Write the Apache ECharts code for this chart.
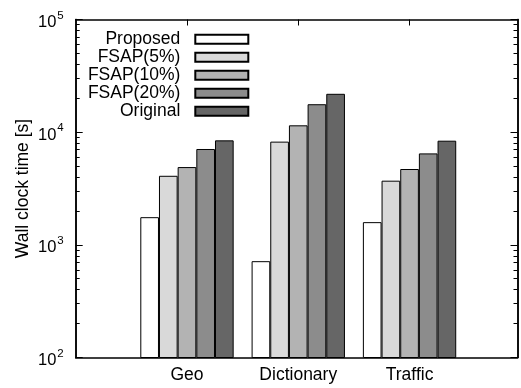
<!DOCTYPE html>
<html><head><meta charset="utf-8">
<script src="https://cdn.jsdelivr.net/npm/echarts@6/dist/echarts.min.js"></script>
<style>html,body{margin:0;padding:0;background:#fff}#c{width:521px;height:388px}</style>
</head><body><div id="c"></div>
<script>
const categories = ['Geo', 'Dictionary', 'Traffic'];
const seriesNames = ['Proposed', 'FSAP(5%)', 'FSAP(10%)', 'FSAP(20%)', 'Original'];
const proposed = [1760, 716, 1590];
const fsap5 = [4100, 8240, 3710];
const fsap10 = [4900, 11500, 4710];
const fsap20 = [7090, 17700, 6480];
const original = [8460, 21900, 8400];
const yMajorTicks = [100, 1000, 10000, 100000];
const yMinorTicks = [200,300,400,500,600,700,800,900,2000,3000,4000,5000,6000,7000,8000,9000,20000,30000,40000,50000,60000,70000,80000,90000];
const colors = ['#ffffff', '#d9d9d9', '#b3b3b3', '#8c8c8c', '#666666'];
const values = [proposed, fsap5, fsap10, fsap20, original];
const catPos = categories.map((c, i) => i + 1);

const FONT = 'Liberation Sans, Arial, sans-serif';
const chart = echarts.init(document.getElementById('c'), null, {renderer: 'canvas'});
const lineStyle = {color: '#000', width: 1.5};
const yBase = {type: 'log', logBase: 10, min: 100, max: 100000, splitLine: {show: false}, axisLine: {show: true, lineStyle}};
chart.setOption({
  animation: false,
  backgroundColor: '#fff',
  textStyle: {fontFamily: FONT},
  grid: {left: 75.7, right: 3.5, top: 19.5, bottom: 30.5, containLabel: false},
  legend: {
    data: seriesNames, orient: 'vertical', align: 'right', right: 271.7, top: 30.2,
    itemWidth: 53, itemHeight: 9, itemGap: 0, padding: 0, icon: 'rect',
    textStyle: {fontSize: 17.5, lineHeight: 17.6, color: '#000', fontFamily: FONT, padding: [0, 10, 0, 0]}
  },
  xAxis: [
    {type: 'value', min: 0, max: 3.97, interval: 1, position: 'bottom',
     splitLine: {show: false}, axisLine: {show: true, lineStyle}, axisTick: {show: false},
     axisLabel: {customValues: catPos, formatter: v => categories[Math.round(v) - 1] || '', fontSize: 17.5, color: '#000', margin: 9, fontFamily: FONT}},
    {type: 'value', min: 0, max: 3.97, interval: 1, position: 'top',
     splitLine: {show: false}, axisLine: {show: true, lineStyle}, axisLabel: {show: false},
     axisTick: {show: true, inside: true, length: 6, customValues: catPos, lineStyle: {color: '#000', width: 1}}}
  ],
  yAxis: [
    Object.assign({}, yBase, {position: 'left', name: 'Wall clock time [s]', nameLocation: 'middle', nameGap: 44, nameMoveOverlap: false,
      nameTextStyle: {fontSize: 17.5, color: '#000', fontFamily: FONT},
      axisTick: {show: true, inside: true, length: 7, customValues: yMajorTicks, lineStyle: {color: '#000', width: 1}},
      axisLabel: {customValues: yMajorTicks, margin: 12, color: '#000', fontFamily: FONT,
        formatter: v => '{b|10}{s|' + Math.round(Math.log10(v)) + '}',
        rich: {b: {fontSize: 16.5, color: '#000', fontFamily: FONT, padding: [6, 0, 0, 0]}, s: {fontSize: 11.5, color: '#000', fontFamily: FONT, padding: [0, 0, 8, 1]}}}}),
    Object.assign({}, yBase, {position: 'left', axisLabel: {show: false},
      axisTick: {show: true, inside: true, length: 4, customValues: yMinorTicks, lineStyle: {color: '#000', width: 1}}}),
    Object.assign({}, yBase, {position: 'right', axisLabel: {show: false},
      axisTick: {show: true, inside: true, length: 7, customValues: yMajorTicks, lineStyle: {color: '#000', width: 1}}}),
    Object.assign({}, yBase, {position: 'right', axisLabel: {show: false},
      axisTick: {show: true, inside: true, length: 4, customValues: yMinorTicks, lineStyle: {color: '#000', width: 1}}})
  ],
  series: seriesNames.map((name, k) => ({
    name, type: 'bar', xAxisIndex: 0, yAxisIndex: 0,
    barWidth: 18.67, barGap: '0%',
    itemStyle: {color: colors[k], borderColor: '#000', borderWidth: 1},
    data: values[k].map((v, i) => [catPos[i], v])
  }))
});
</script></body></html>
